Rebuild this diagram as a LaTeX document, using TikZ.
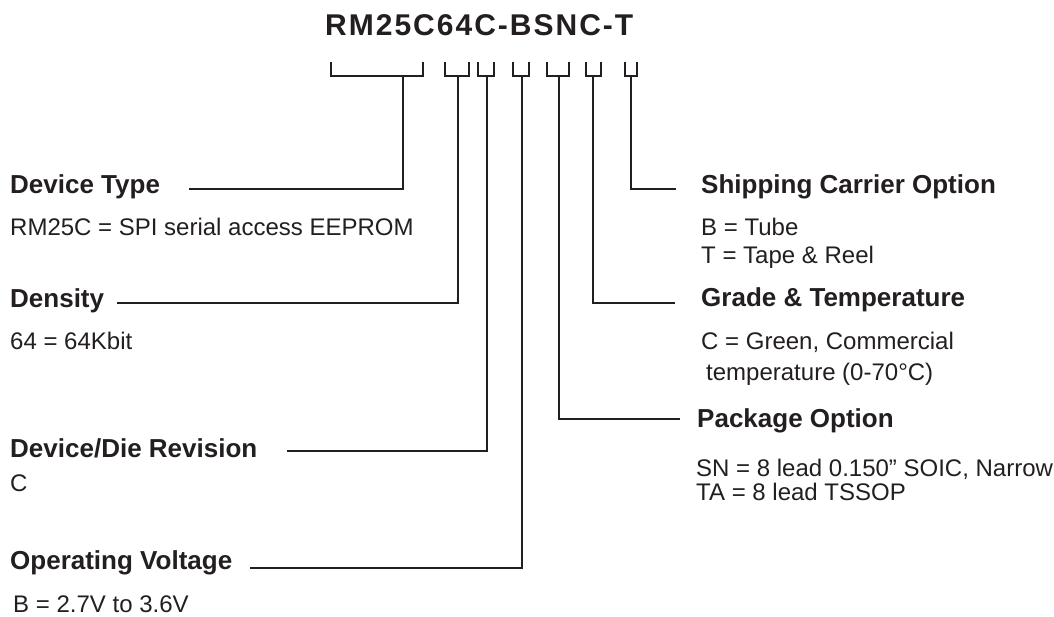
\documentclass[tikz,border=0pt]{standalone}
\usepackage{fontspec}
\setmainfont{Liberation Sans}
\newfontfamily\titlefont[LetterSpace=6.7]{Liberation Sans}
\definecolor{ink}{HTML}{231F20}
\begin{document}
\begin{tikzpicture}[x=1pt,y=-1pt,
  head/.style={anchor=base west,inner sep=0pt,font=\fontsize{26}{30}\selectfont\bfseries,text=ink},
  body/.style={anchor=base west,inner sep=0pt,font=\fontsize{24}{29}\selectfont,text=ink},
  brk/.style={draw=ink,line width=2.6pt,line cap=butt,line join=miter},
  conn/.style={draw=ink,line width=1.7pt,line join=miter}]
\useasboundingbox[fill=white] (0,0) rectangle (1054,616);
% title
\node[anchor=base west,inner sep=0pt,font=\titlefont\fontsize{30}{36}\selectfont\bfseries,text=ink] (title) at (325,35) {RM25C64C-BSNC-T};
% brackets
\draw[brk] (331,62) |- (423,76) -- (423,62);
\draw[brk] (445,62) |- (469,76) -- (469,62);
\draw[brk] (478,62) |- (494,76) -- (494,62);
\draw[brk] (513,62) |- (529,76) -- (529,62);
\draw[brk] (547,62) |- (569,76) -- (569,62);
\draw[brk] (586,62) |- (601,76) -- (601,62);
\draw[brk] (625,62) |- (637,76) -- (637,62);
% stem origins
\coordinate (b1) at (403,76);
\coordinate (b2) at (458,76);
\coordinate (b3) at (487,76);
\coordinate (b4) at (522,76);
\coordinate (b5) at (559,76);
\coordinate (b6) at (593,76);
\coordinate (b7) at (631,76);
% left texts
\node[head] (dtype) at (10,193) {Device Type};
\node[body] (dtypeb) at (10,235) {RM25C = SPI serial access EEPROM};
\node[head] (dens) at (10,307) {Density};
\node[body] (densb) at (10,349) {64 = 64Kbit};
\node[head] (drev) at (10,457) {Device/Die Revision};
\node[body] (drevb) at (10,491) {C};
\node[head] (opv) at (10,569) {Operating Voltage};
\node[body] (opvb) at (13,612) {B = 2.7V to 3.6V};
% right texts
\node[head] (ship) at (701,193) {Shipping Carrier Option};
\node[body] (shipb1) at (701,235) {B = Tube};
\node[body] (shipb2) at (701,263) {T = Tape \& Reel};
\node[head] (grade) at (701,306) {Grade \& Temperature};
\node[body] (gradeb1) at (701,349) {C = Green, Commercial};
\node[body] (gradeb2) at (706,380) {temperature (0-70°C)};
\node[head] (pack) at (697,427) {Package Option};
\node[body] (packb1) at (696,476) {SN = 8 lead 0.150” SOIC, Narrow};
\node[body] (packb2) at (696,500) {TA = 8 lead TSSOP};
% connector ends
\coordinate (e1) at (189,189);
\coordinate (e2) at (117,303);
\coordinate (e3) at (287,451);
\coordinate (e4) at (250,568);
\coordinate (e5) at (680,419);
\coordinate (e6) at (675,303);
\coordinate (e7) at (676,189);
\draw[conn] (b1) |- (e1);
\draw[conn] (b2) |- (e2);
\draw[conn] (b3) |- (e3);
\draw[conn] (b4) |- (e4);
\draw[conn] (b5) |- (e5);
\draw[conn] (b6) |- (e6);
\draw[conn] (b7) |- (e7);
\end{tikzpicture}
\end{document}
